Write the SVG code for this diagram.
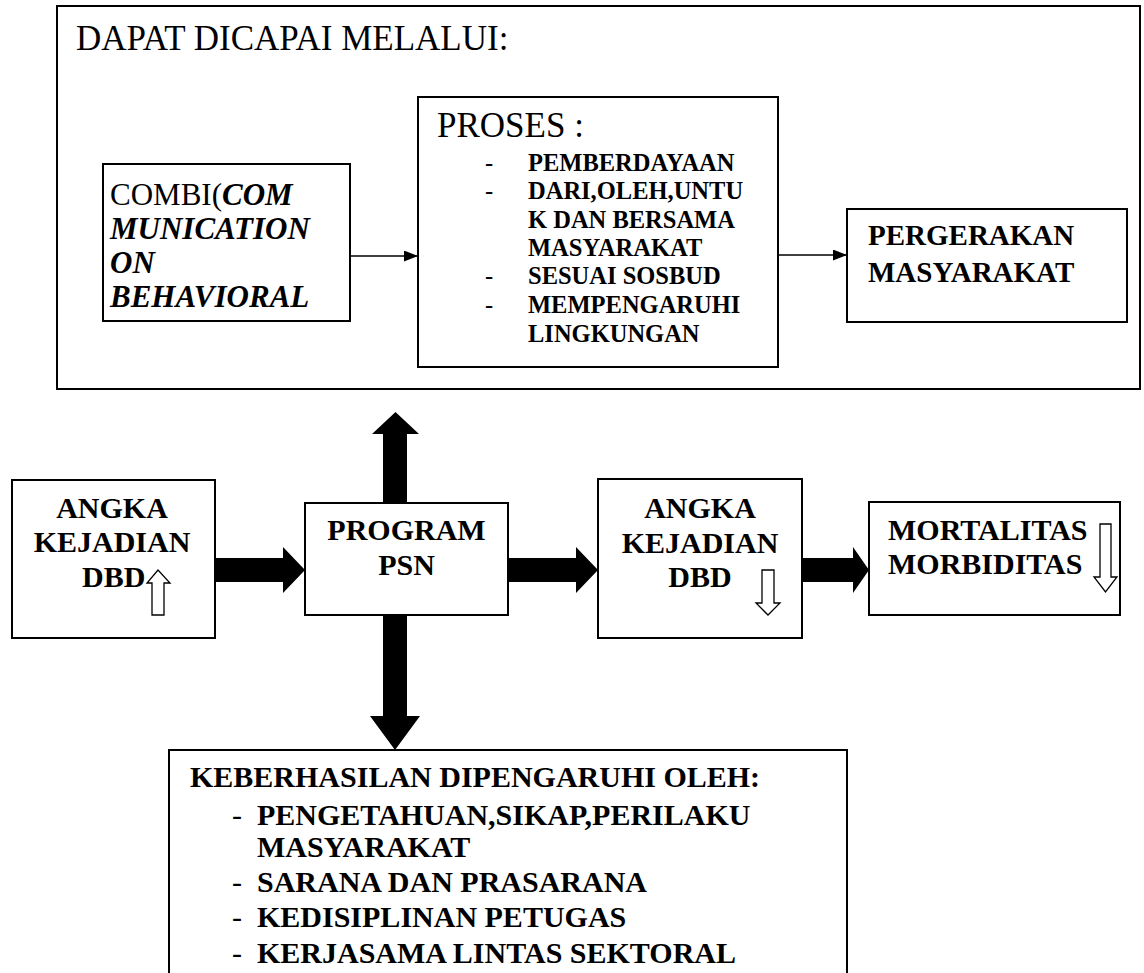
<svg xmlns="http://www.w3.org/2000/svg" width="1144" height="973" viewBox="0 0 1144 973" font-family="'Liberation Serif', 'Times New Roman', 'DejaVu Serif', serif">
<style>
.box{fill:#fff;stroke:#000;stroke-width:2}
text{font-family:'Liberation Serif','Times New Roman','DejaVu Serif',serif;fill:#000}
.b{font-weight:bold}
.bi{font-weight:bold;font-style:italic}
.thin{stroke:#000;stroke-width:1.5;fill:none}
.thick{fill:#000;stroke:none}
.hollow{fill:#fff;stroke:#000;stroke-width:1.3}
</style>
<defs>
<marker id="ah" viewBox="0 0 10 10" refX="10" refY="5" markerWidth="14" markerHeight="11" markerUnits="userSpaceOnUse" orient="auto" preserveAspectRatio="none">
<path d="M0,0 L10,5 L0,10 z" fill="#000"/>
</marker>
</defs>
<rect width="1144" height="973" fill="#fff"/>

<g id="outer">
<rect class="box" x="57" y="6" width="1083" height="383"/>
<text x="76" y="50" font-size="35">DAPAT DICAPAI MELALUI:</text>
</g>

<g id="combi">
<rect class="box" x="103" y="164" width="247" height="157"/>
<text font-size="31"><tspan x="110" y="205">COMBI(<tspan class="bi">COM</tspan></tspan><tspan class="bi" x="110" y="239">MUNICATION</tspan><tspan class="bi" x="110" y="273">ON</tspan><tspan class="bi" x="110" y="307">BEHAVIORAL</tspan></text>
</g>

<g id="proses">
<rect class="box" x="418" y="97" width="360" height="270"/>
<text x="437" y="137" font-size="35">PROSES :</text>
<text font-size="24.5"><tspan x="485" y="171">-</tspan><tspan x="485" y="199">-</tspan><tspan x="485" y="284">-</tspan><tspan x="485" y="313">-</tspan></text>
<text class="b" font-size="24.5"><tspan x="528" y="171">PEMBERDAYAAN</tspan><tspan x="528" y="199">DARI,OLEH,UNTU</tspan><tspan x="528" y="228">K DAN BERSAMA</tspan><tspan x="528" y="256">MASYARAKAT</tspan><tspan x="528" y="284">SESUAI SOSBUD</tspan><tspan x="528" y="313">MEMPENGARUHI</tspan><tspan x="528" y="342">LINGKUNGAN</tspan></text>
</g>

<g id="pergerakan">
<rect class="box" x="847" y="209" width="280" height="113"/>
<text class="b" font-size="29"><tspan x="868" y="245">PERGERAKAN</tspan><tspan x="868" y="282">MASYARAKAT</tspan></text>
</g>

<g id="angka1">
<rect class="box" x="12" y="480" width="203" height="158"/>
<text class="b" font-size="30" text-anchor="middle"><tspan x="112" y="518">ANGKA</tspan><tspan x="112" y="552">KEJADIAN</tspan></text>
<text class="b" font-size="30" x="82" y="587">DBD</text>
<path class="hollow" d="M152,615 L164,615 L164,583 L170,583 L158,570 L147,583 L152,583 Z"/>
</g>

<g id="psn">
<rect class="box" x="305" y="503" width="203" height="112"/>
<text class="b" font-size="30" text-anchor="middle"><tspan x="406.5" y="540">PROGRAM</tspan><tspan x="406.5" y="575">PSN</tspan></text>
</g>

<g id="angka2">
<rect class="box" x="598" y="479" width="204" height="159"/>
<text class="b" font-size="30" text-anchor="middle"><tspan x="700" y="518">ANGKA</tspan><tspan x="700" y="553">KEJADIAN</tspan><tspan x="700" y="587">DBD</tspan></text>
<path class="hollow" d="M762,570 L774,570 L774,603 L780,603 L768,615 L756,603 L762,603 Z"/>
</g>

<g id="mortalitas">
<rect class="box" x="869" y="502" width="251" height="113"/>
<text class="b" font-size="30"><tspan x="888" y="540">MORTALITAS</tspan><tspan x="888" y="574">MORBIDITAS</tspan></text>
<path class="hollow" d="M1100,524 L1111,524 L1111,577 L1117,577 L1105.5,592 L1094,577 L1100,577 Z"/>
</g>

<g id="keberhasilan">
<rect class="box" x="169" y="750" width="678" height="240"/>
<text class="b" font-size="30" x="190" y="787">KEBERHASILAN DIPENGARUHI OLEH:</text>
<text font-size="30"><tspan x="232" y="825">-</tspan><tspan x="232" y="892">-</tspan><tspan x="232" y="927">-</tspan><tspan x="232" y="963">-</tspan></text>
<text class="b" font-size="30"><tspan x="257" y="825">PENGETAHUAN,SIKAP,PERILAKU</tspan><tspan x="257" y="857">MASYARAKAT</tspan><tspan x="257" y="892">SARANA DAN PRASARANA</tspan><tspan x="257" y="927">KEDISIPLINAN PETUGAS</tspan><tspan x="257" y="963">KERJASAMA LINTAS SEKTORAL</tspan></text>
</g>

<g id="connectors">
<line class="thin" x1="350" y1="256" x2="418" y2="256" marker-end="url(#ah)"/>
<line class="thin" x1="778" y1="255" x2="847" y2="255" marker-end="url(#ah)"/>
<polygon class="thick" points="215,558 283,558 283,547 305,570 283,593 283,582 215,582"/>
<polygon class="thick" points="508,558 576,558 576,547 598,570 576,593 576,582 508,582"/>
<polygon class="thick" points="802,558 853,558 853,547 869,570 853,593 853,582 802,582"/>
<polygon class="thick" points="383,503 383,434 372,434 395.5,412 419,434 407,434 407,503"/>
<polygon class="thick" points="383,615 407,615 407,716 420,716 395,750 370,716 383,716"/>
</g>
</svg>
